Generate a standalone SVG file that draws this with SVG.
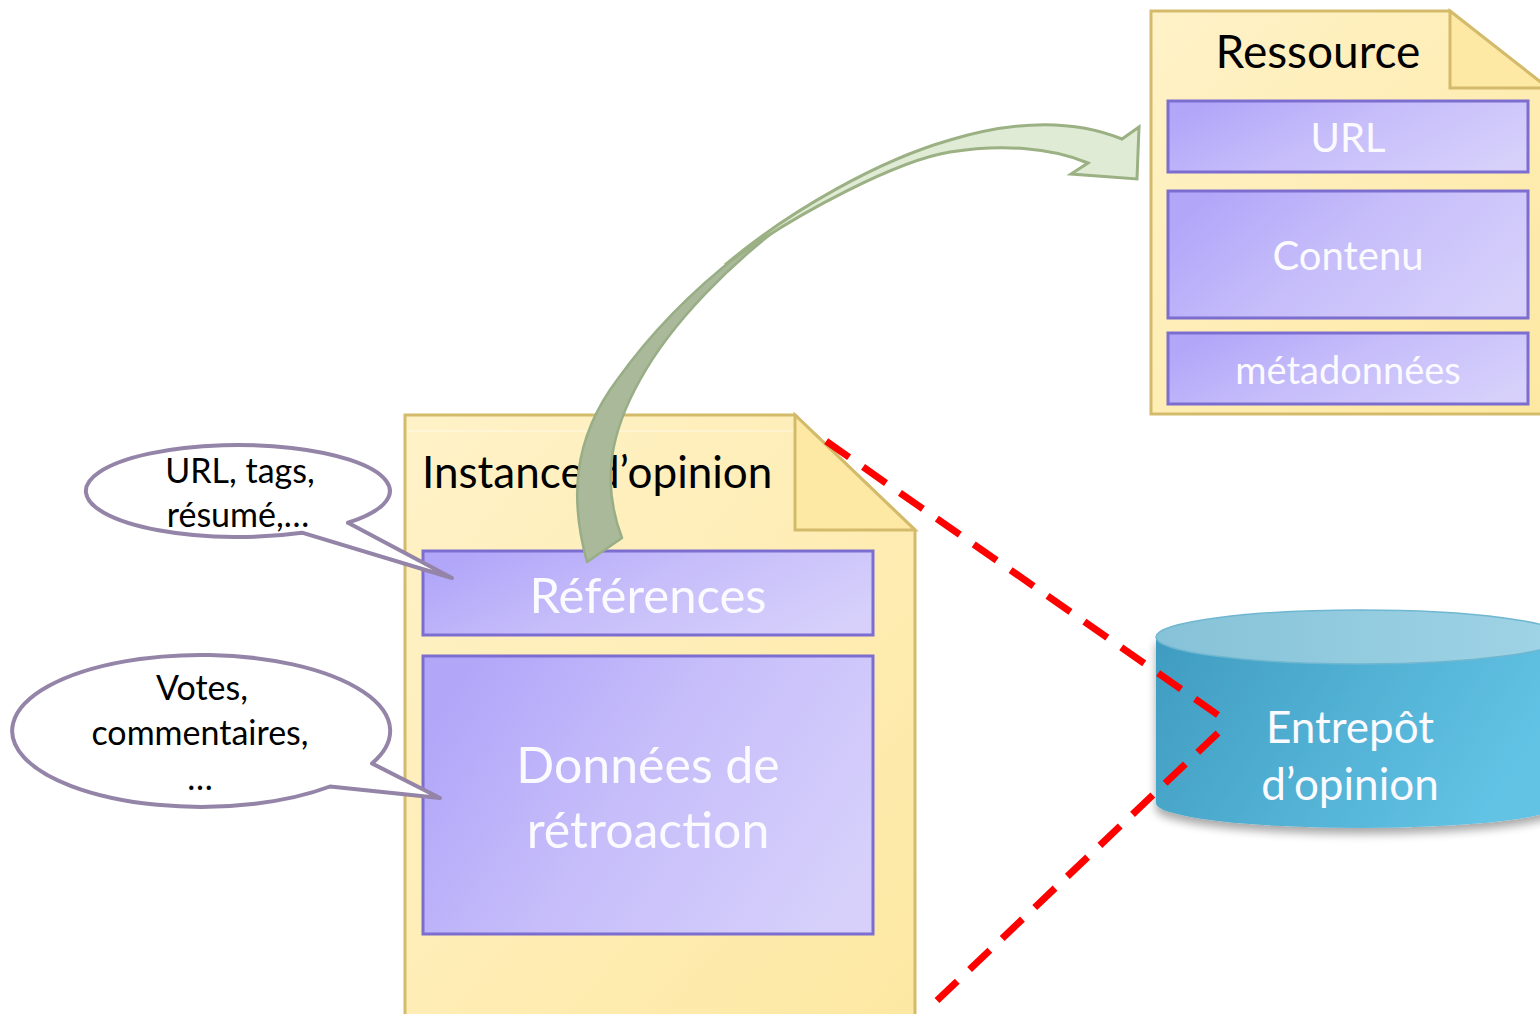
<svg xmlns="http://www.w3.org/2000/svg" width="1540" height="1014" viewBox="0 0 1540 1014">
  <defs>
    <linearGradient id="docGrad" x1="0" y1="0" x2="1" y2="1">
      <stop offset="0" stop-color="#fff2c8"/>
      <stop offset="1" stop-color="#fde8a2"/>
    </linearGradient>
    <linearGradient id="boxGrad" x1="0" y1="0.3" x2="1" y2="0.7">
      <stop offset="0" stop-color="#b2a6f9"/>
      <stop offset="0.45" stop-color="#c6bdfa"/>
      <stop offset="1" stop-color="#d6d0fb"/>
    </linearGradient>
    <linearGradient id="cylBody" x1="0" y1="0" x2="1" y2="0.3">
      <stop offset="0" stop-color="#3f9cc0"/>
      <stop offset="1" stop-color="#62c3e5"/>
    </linearGradient>
    <linearGradient id="cylTop" x1="0" y1="0" x2="1" y2="0">
      <stop offset="0" stop-color="#86c2d8"/>
      <stop offset="1" stop-color="#a0d4e6"/>
    </linearGradient>
    <filter id="shadow" x="-10%" y="-10%" width="120%" height="130%">
      <feGaussianBlur in="SourceAlpha" stdDeviation="5"/>
      <feOffset dx="0" dy="6" result="b"/>
      <feComponentTransfer><feFuncA type="linear" slope="0.35"/></feComponentTransfer>
      <feMerge><feMergeNode/><feMergeNode in="SourceGraphic"/></feMerge>
    </filter>
  </defs>
  <style>
    .doc { fill: url(#docGrad); stroke: #d3bb6b; stroke-width: 3; }
    .fold { fill: #fde8a4; stroke: #d3bb6b; stroke-width: 3; stroke-linejoin: miter; }
    .box { fill: url(#boxGrad); stroke: #7c6dd0; stroke-width: 3; }
    .title { font-family: Lato, "Liberation Sans", sans-serif; fill: #000; }
    .lbl { font-family: Lato, "Liberation Sans", sans-serif; fill: #fbfaff; text-anchor: middle; }
    .bub { fill: #fff; stroke: #9384a8; stroke-width: 4; stroke-linejoin: round; }
    .btxt { font-family: Lato, "Liberation Sans", sans-serif; fill: #000; text-anchor: middle; font-size: 34px; }
    .dash { fill: none; stroke: #ff0000; stroke-width: 7; stroke-dasharray: 28 17; }
  </style>

  <g id="ressource">
    <path class="doc" d="M1151,11 L1450,11 L1548,88 L1548,414 L1151,414 Z"/>
    <path class="fold" d="M1450,11 L1450,88 L1548,88 Z"/>
    <text class="title" x="1318" y="68" font-size="46" text-anchor="middle">Ressource</text>
    <g id="res-url">
      <rect class="box" x="1168" y="101" width="360" height="71"/>
      <text class="lbl" x="1348" y="152" font-size="40">URL</text>
    </g>
    <g id="res-contenu">
      <rect class="box" x="1168" y="191" width="360" height="127"/>
      <text class="lbl" x="1348" y="270" font-size="40">Contenu</text>
    </g>
    <g id="res-meta">
      <rect class="box" x="1168" y="333" width="360" height="71"/>
      <text class="lbl" x="1348" y="384" font-size="38">métadonnées</text>
    </g>
  </g>

  <g id="instance">
    <path class="doc" d="M405,415 L795,415 L915,530 L915,1020 L405,1020 Z"/>
    <line x1="408" y1="431" x2="795" y2="431" stroke="#ffffff" stroke-opacity="0.6" stroke-width="1"/>
    <path class="fold" d="M795,415 L795,530 L915,530 Z"/>
    <text class="title" x="422" y="488" font-size="44">Instance d’opinion</text>
    <g id="inst-ref">
      <rect class="box" x="423" y="551" width="450" height="84"/>
      <text class="lbl" x="648" y="613" font-size="49">Références</text>
    </g>
    <g id="inst-data">
      <rect class="box" x="423" y="656" width="450" height="278"/>
      <text class="lbl" x="648" y="783" font-size="50">Données de</text>
      <text class="lbl" x="648" y="848" font-size="50">rétroaction</text>
    </g>
  </g>

  <g id="entrepot">
    <g filter="url(#shadow)">
      <path d="M1156,637 L1156,803 A204,25 0 0 0 1564,803 L1564,637 Z" fill="url(#cylBody)"/>
    </g>
    <ellipse cx="1360" cy="637" rx="204" ry="27" fill="url(#cylTop)" stroke="#6fb7d1" stroke-width="1.5"/>
    <text class="lbl" x="1350" y="743" font-size="44">Entrepôt</text>
    <text class="lbl" x="1350" y="800" font-size="44">d’opinion</text>
  </g>

  <g id="bubble-refs">
    <path class="bub" d="M348,522.7 A152,46 0 1 0 302,532.7 L452,578 Z"/>
    <text class="btxt" x="240" y="483">URL, tags,</text>
    <text class="btxt" x="238" y="527">résumé,…</text>
  </g>

  <g id="bubble-data">
    <path class="bub" d="M372,763.4 A189,76 0 1 0 330,786.5 L440,798 Z"/>
    <text class="btxt" x="202" y="700" font-size="35">Votes,</text>
    <text class="btxt" x="200" y="745" font-size="35">commentaires,</text>
    <text class="btxt" x="200" y="790" font-size="35">…</text>
  </g>

  <g id="connectors">
    <path class="dash" d="M1218,715 L813,432"/>
    <path class="dash" d="M1218,733 L927,1010"/>
    <g id="curved-arrow">
      <path d="M587,562 C570,500 572,440 617,380 C660,320 720,262 800,212 C730,262 670,325 640,380 C612,430 600,480 622,538 Z" fill="#a9b999" stroke="#98ae86" stroke-width="2.5" stroke-linejoin="round"/>
      <path d="M725,265 C790,210 880,160 950,140 C1010,122 1070,118 1122,139 L1139,127 L1137,179 L1071,174 L1088,163 C1050,147 1000,144 950,152 C900,160 800,210 725,265 Z" fill="#dfebd4" stroke="#9bb184" stroke-width="3" stroke-linejoin="miter"/>
    </g>
  </g>
</svg>
